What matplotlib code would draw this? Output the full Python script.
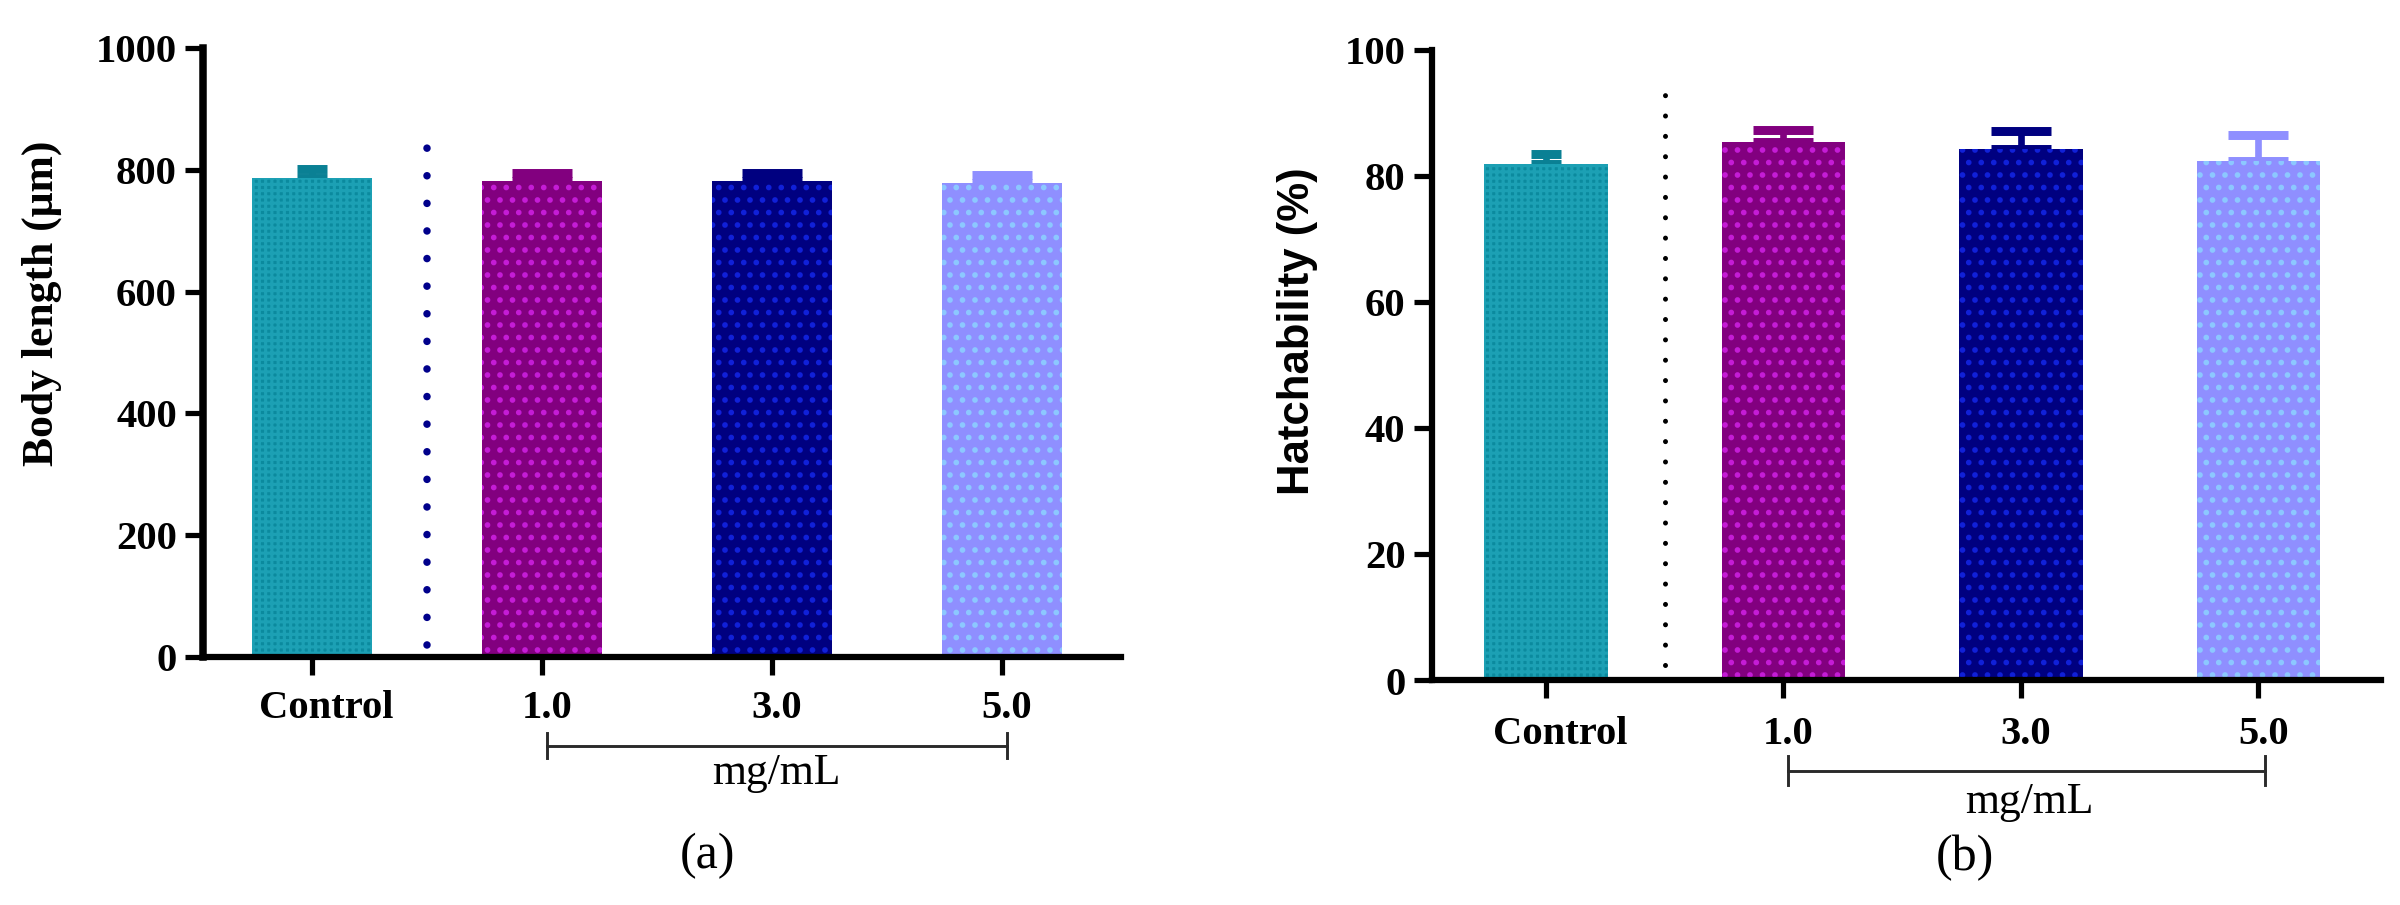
import numpy as np
import matplotlib
matplotlib.use('Agg')
import matplotlib.pyplot as plt
import matplotlib.transforms as mtransforms
from matplotlib.lines import Line2D

# Data
groups = ['Control', '1.0', '3.0', '5.0']
body_length = [786, 781, 781, 778]
body_length_err = [15, 14, 14, 14]
hatchability = [81.8, 85.4, 84.2, 82.4]
hatchability_err = [1.7, 1.9, 2.9, 4.1]
body_ticks = [0, 200, 400, 600, 800, 1000]
hatch_ticks = [0, 20, 40, 60, 80, 100]
unit_label = 'mg/mL'

# Bar styles
face_colors = ['#0B8A9E', '#82007F', '#000080', '#8F8FFF']
dot_colors = ['#1CA0B4', '#C41CD6', '#1020D8', '#8CC8FF']
err_colors = ['#0A8094', '#82007F', '#000080', '#8F8FFF']
hatches = ['++++', '..', '..', '..']
cap_sizes = [7.2, 14.4, 14.4, 14.4]

W, H, DPI = 2400, 905, 150
plt.rcParams['hatch.linewidth'] = 1.5

fig = plt.figure(figsize=(W / DPI, 6.0334), dpi=DPI)

serif = 'Liberation Serif'


def px_to_fig(x_px, y_px):
    return x_px / W, 1 - y_px / H


def draw_panel(ax, values, errs, ticks, sep_range, sep_color, sep_lw, sep_gap,
               spine_lw, xpad):
    x = np.arange(len(groups))
    for i in x:
        ax.bar(i, values[i], width=0.52, color=face_colors[i],
               edgecolor=dot_colors[i], hatch=hatches[i], linewidth=0, zorder=2)
        ax.errorbar(i, values[i], yerr=[[0], [errs[i]]], fmt='none',
                    ecolor=err_colors[i], elinewidth=3.2, capsize=cap_sizes[i],
                    capthick=4.3, zorder=1)

    # dotted separator between control and treatments
    ax.plot([0.5, 0.5], sep_range, color=sep_color, lw=sep_lw,
            linestyle=(0, (0.01, sep_gap)), dash_capstyle='round', zorder=3)

    ax.set_ylim(ticks[0], ticks[-1])
    ax.set_yticks(ticks)
    ax.set_xticks(x, groups)
    for side in ['top', 'right']:
        ax.spines[side].set_visible(False)
    ax.spines['left'].set_linewidth(spine_lw)
    ax.spines['bottom'].set_linewidth(3.0)
    for side in ['left', 'bottom']:
        ax.spines[side].set_capstyle('projecting')
        ax.spines[side].set_zorder(4)
    ax.tick_params(axis='both', length=8.5, width=2.5, direction='out')
    ax.tick_params(axis='x', pad=xpad)
    ax.tick_params(axis='y', pad=4)
    for lbl in ax.get_xticklabels() + ax.get_yticklabels():
        lbl.set_fontfamily(serif)
        lbl.set_fontweight('bold')
        lbl.set_fontsize(19.5)
    # tick labels sit slightly right of their ticks in the original
    offsets = [14, 5, 5, 5]
    for lbl, dx in zip(ax.get_xticklabels(), offsets):
        lbl.set_transform(lbl.get_transform() +
                          mtransforms.ScaledTranslation(dx / DPI, 0, fig.dpi_scale_trans))


def draw_bracket(ax, x0, x1, y_px, tick_px, text_x, text_y_px):
    trans = mtransforms.blended_transform_factory(ax.transData, fig.transFigure)
    yf = 1 - y_px / H
    half = tick_px / 2 / H
    fig.add_artist(Line2D([x0, x1], [yf, yf], transform=trans, color='#2a2a2a', lw=1.4))
    for xe in (x0, x1):
        fig.add_artist(Line2D([xe, xe], [yf - half, yf + half], transform=trans,
                              color='#2a2a2a', lw=1.4))
    fig.text(text_x, 1 - text_y_px / H, unit_label, transform=trans, ha='center',
             va='baseline', fontfamily=serif, fontsize=21)


# (a) body length
l, b = px_to_fig(203, 657)
_, t = px_to_fig(0, 48)
ax1 = fig.add_axes([l, b, (1121 - 203) / W, t - b])
ax1.set_xlim(-0.474, 3.517)
draw_panel(ax1, body_length, body_length_err, body_ticks, [20, 877],
           '#00008B', 3.6, 3.67, 3.6, 7.2)
draw_bracket(ax1, 1.02, 3.02, 746, 25, 2.02, 784)
fig.text(*px_to_fig(42, 303.5), 'Body length (μm)', rotation=90, ha='center',
         va='center', fontfamily=serif, fontweight='bold', fontsize=21)
fig.text(*px_to_fig(708, 868), '(a)', ha='center', va='baseline',
         fontfamily=serif, fontsize=24)

# (b) hatchability
l, b = px_to_fig(1431.5, 680.5)
_, t = px_to_fig(0, 49.7)
ax2 = fig.add_axes([l, b, (2380.5 - 1431.5) / W, t - b])
ax2.set_xlim(-0.482, 3.514)
draw_panel(ax2, hatchability, hatchability_err, hatch_ticks, [2.5, 94],
           'black', 2.4, 4.06, 3.0, 8.6)
draw_bracket(ax2, 1.019, 3.027, 770.7, 29, 2.036, 812.8)
fig.text(*px_to_fig(1297.6, 331), 'Hatchability (%)', rotation=90, ha='center',
         va='center', fontfamily='Liberation Sans', fontweight='bold', fontsize=21)
fig.text(*px_to_fig(1965, 870), '(b)', ha='center', va='baseline',
         fontfamily=serif, fontsize=24)

fig.savefig('out.png', dpi=DPI, facecolor='white')
